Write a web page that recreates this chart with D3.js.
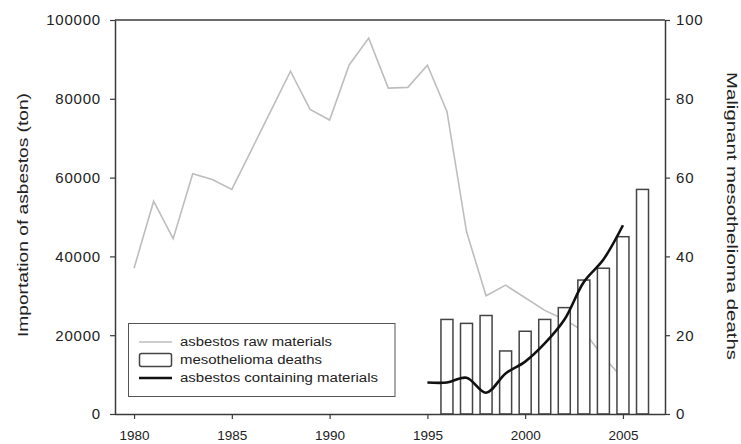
<!DOCTYPE html>
<html><head><meta charset="utf-8">
<script src="https://cdn.jsdelivr.net/npm/d3@7"></script>
<style>
html,body{margin:0;padding:0;background:#fff;}
svg{display:block;font-family:"Liberation Sans",Arial,sans-serif;}
</style></head>
<body>
<svg id="chart" width="741" height="444"></svg>
<script>
// ---- data ----
const rawYears = [1980,1981,1982,1983,1984,1985,1986,1987,1988,1989,1990,1991,1992,1993,1994,1995,1996,1997,1998,1999,2000,2001,2002,2003,2004,2005];
const rawValues = [37000,54000,44500,61000,59500,57000,67000,77000,87000,77300,74600,88600,95400,82700,82900,88500,76800,46300,30000,32700,29500,26300,24000,21000,14500,9000];
const deathYears = [1996,1997,1998,1999,2000,2001,2002,2003,2004,2005,2006];
const deathValues = [24,23,25,16,21,24,27,34,37,45,57];
const contYears = [1995,1996,1997,1998,1999,2000,2001,2002,2003,2004,2005];
const contValues = [8,8,9.2,5.4,10.3,13.3,17.9,23.9,33.5,39.2,47.9];
const xTicks = [1980,1985,1990,1995,2000,2005];
const yLeftTicks = [0,20000,40000,60000,80000,100000];
const yRightTicks = [0,20,40,60,80,100];
const legendLabels = ["asbestos raw materials","mesothelioma deaths","asbestos containing materials"];

// ---- layout ----
const svg = d3.select("#chart");
const L = 115, R = 665, T = 20, B = 414;
const axisColor = "#3a3a3a";
const x = d3.scaleLinear().domain([1979, 2007.15]).range([L - 0.5, R]);
const yL = d3.scaleLinear().domain([0, 100000]).range([B, T]);
const yR = d3.scaleLinear().domain([0, 100]).range([B, T]);

// gray raw materials line
svg.append("path")
  .datum(rawYears.map((d,i)=>[d, rawValues[i]]))
  .attr("fill","none").attr("stroke","#bdbdbd").attr("stroke-width",1.6)
  .attr("d", d3.line().x(d=>x(d[0])).y(d=>yL(d[1])));

// bars
const bw = 12;
svg.append("g").selectAll("rect").data(deathYears.map((d,i)=>[d, deathValues[i]]))
  .join("rect")
  .attr("x", d=>x(d[0]) - bw/2)
  .attr("y", d=>yR(d[1]))
  .attr("width", bw)
  .attr("height", d=>B - yR(d[1]))
  .attr("fill","#fff").attr("stroke","#444").attr("stroke-width",1.5);

// black containing materials line
svg.append("path")
  .datum(contYears.map((d,i)=>[d, contValues[i]]))
  .attr("fill","none").attr("stroke","#111").attr("stroke-width",2.6)
  .attr("stroke-linejoin","round")
  .attr("d", d3.line().curve(d3.curveCatmullRom.alpha(0.5)).x(d=>x(d[0])).y(d=>yR(d[1])));

// axes
const gB = svg.append("g").attr("transform",`translate(0,${B})`)
  .call(d3.axisBottom(x).tickValues(xTicks).tickFormat(d3.format("d")).tickSize(5).tickSizeOuter(0));
gB.select(".domain").attr("d", `M${L},0.5H${R}`);
gB.selectAll("text").attr("font-size","13.5px").attr("dy","1.35em").attr("fill","#222");

const gL = svg.append("g").attr("transform",`translate(${L},0)`)
  .call(d3.axisLeft(yL).tickValues(yLeftTicks).tickFormat(d3.format("d")).tickSize(5).tickSizeOuter(0));
gL.selectAll("text").attr("font-size","15px").attr("letter-spacing","0.8px").attr("x",-14).attr("fill","#222");

const gR = svg.append("g").attr("transform",`translate(${R},0)`)
  .call(d3.axisRight(yR).tickValues(yRightTicks).tickFormat(d3.format("d")).tickSize(5).tickSizeOuter(0));
gR.selectAll("text").attr("font-size","15px").attr("letter-spacing","0.8px").attr("x",11).attr("fill","#222");

[gB,gL,gR].forEach(g=>{
  g.selectAll(".domain").attr("stroke",axisColor).attr("stroke-width",1.5);
  g.selectAll(".tick line").attr("stroke",axisColor).attr("stroke-width",1.2);
});
// top frame
svg.append("line").attr("x1",L).attr("x2",R).attr("y1",T).attr("y2",T)
  .attr("stroke",axisColor).attr("stroke-width",1.5);

// axis titles
svg.append("text").attr("transform","translate(28,215) rotate(-90)")
  .attr("text-anchor","middle").attr("font-size","15px").attr("fill","#222")
  .attr("textLength",244).attr("lengthAdjust","spacingAndGlyphs")
  .text("Importation of asbestos (ton)");
svg.append("text").attr("transform","translate(727,216) rotate(90)")
  .attr("text-anchor","middle").attr("font-size","15px").attr("fill","#222")
  .attr("textLength",288).attr("lengthAdjust","spacingAndGlyphs")
  .text("Malignant mesothelioma deaths");

// legend
const lg = svg.append("g");
lg.append("rect").attr("x",128.5).attr("y",323.5).attr("width",266.5).attr("height",73)
  .attr("fill","#fff").attr("stroke","#555").attr("stroke-width",1);
const rows = [342, 360, 378];
const lens = [152, 142, 198];
lg.append("line").attr("x1",139).attr("x2",172).attr("y1",rows[0]).attr("y2",rows[0])
  .attr("stroke","#bdbdbd").attr("stroke-width",1.6);
lg.append("rect").attr("x",139.5).attr("y",rows[1]-6.5).attr("width",32).attr("height",13)
  .attr("rx",2).attr("fill","#fff").attr("stroke","#444").attr("stroke-width",1.5);
lg.append("line").attr("x1",139).attr("x2",172).attr("y1",rows[2]).attr("y2",rows[2])
  .attr("stroke","#111").attr("stroke-width",2.6);
legendLabels.forEach((t,i)=>{
  lg.append("text").attr("x",180).attr("y",rows[i]).attr("dy","0.35em")
    .attr("font-size","12px").attr("fill","#222")
    .attr("textLength",lens[i]).attr("lengthAdjust","spacingAndGlyphs").text(t);
});
</script>
</body></html>
